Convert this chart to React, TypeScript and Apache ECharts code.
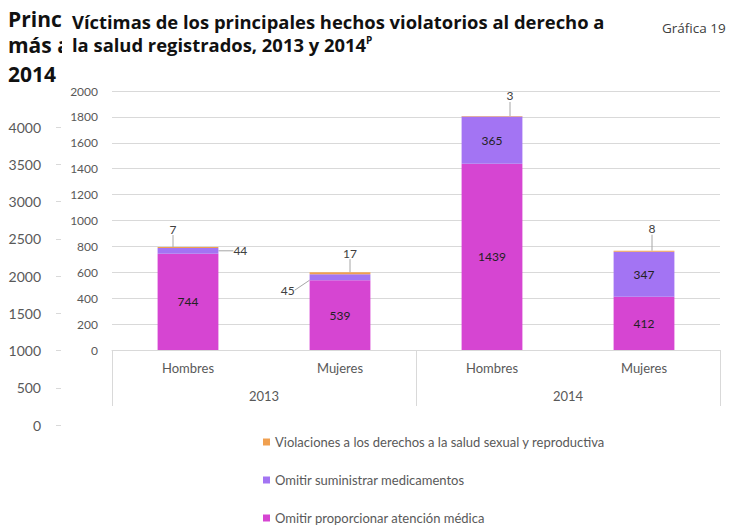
import React, { useEffect, useRef } from 'react';
import * as echarts from 'echarts';

const categories = ['Hombres', 'Mujeres', 'Hombres', 'Mujeres'];
const years = ['2013', '2014'];
const seriesNames = [
  'Omitir proporcionar atención médica',
  'Omitir suministrar medicamentos',
  'Violaciones a los derechos a la salud sexual y reproductiva',
];
const atencionMedica = [744, 539, 1439, 412];
const medicamentos = [44, 45, 365, 347];
const saludSexual = [7, 17, 3, 8];
const mainAxis = { min: 0, max: 2000, interval: 200 };
const backAxis = { min: 0, max: 4000, interval: 500 };
const backTitleLines = ['Princ', 'más a', '2014'];
const titleLine1 = 'Víctimas de los principales hechos violatorios al derecho a';
const titleLine2 = 'la salud registrados, 2013 y 2014';
const titleSup = 'P';
const chartNumber = 'Gráfica 19';

const FONT = 'Lato';
const TITLE_FONT = 'Open Sans';
const COLORS = ['#D645D2', '#A374F3', '#F0A050'];
const GRID_COLOR = '#d9d9d9';
const LABEL_COLOR = '#595959';

// label offsets (presentation only)
const medOffsets: Record<number, { dx: number; dy: number }> = {
  0: { dx: 10, dy: 0 },
  1: { dx: -10, dy: 13 },
};
const topOffsets: Record<number, { dx: number; dy: number }> = {
  0: { dx: -15, dy: -7 },
  1: { dx: 10, dy: -8 },
  2: { dx: 18, dy: -9 },
  3: { dx: 8, dy: -11 },
};

const lineStyle = { color: '#a6a6a6', width: 1 };
const plain = (v: number) => String(v);

function buildOption(): any {
  return {
    animation: false,
    textStyle: { fontFamily: FONT },
    grid: [
      { left: 112, right: 20, top: 91, bottom: 175 },
      { left: 61, width: 1, top: 127, bottom: 100 },
    ],
    legend: {
      orient: 'vertical',
      left: 263,
      top: 435,
      padding: 0,
      itemWidth: 7,
      itemHeight: 7,
      itemGap: 24,
      icon: 'rect',
      data: [seriesNames[2], seriesNames[1], seriesNames[0]],
      textStyle: { fontFamily: FONT, fontSize: 13, color: LABEL_COLOR, lineHeight: 14 },
    },
    xAxis: [
      {
        type: 'category',
        gridIndex: 0,
        data: categories,
        axisLine: { lineStyle: { color: GRID_COLOR } },
        axisTick: { show: false },
        axisLabel: { color: LABEL_COLOR, fontSize: 13, margin: 11 },
      },
      {
        type: 'category',
        gridIndex: 0,
        position: 'bottom',
        data: years,
        axisLine: { show: false },
        axisTick: { show: true, length: 56, lineStyle: { color: GRID_COLOR } },
        axisLabel: { color: LABEL_COLOR, fontSize: 13, margin: 39 },
      },
      {
        type: 'value',
        gridIndex: 1,
        show: false,
      },
    ],
    yAxis: [
      {
        type: 'value',
        gridIndex: 0,
        min: mainAxis.min,
        max: mainAxis.max,
        interval: mainAxis.interval,
        axisLine: { show: false },
        axisTick: { show: false },
        axisLabel: { color: LABEL_COLOR, fontSize: 12, margin: 14, formatter: plain },
        splitLine: { lineStyle: { color: GRID_COLOR } },
      },
      {
        type: 'value',
        gridIndex: 1,
        min: backAxis.min,
        max: backAxis.max,
        interval: backAxis.interval,
        axisLine: { show: false },
        axisTick: { show: true, length: 5, lineStyle: { color: GRID_COLOR } },
        axisLabel: { color: LABEL_COLOR, fontSize: 14, margin: 20, formatter: plain },
        splitLine: { show: false },
      },
    ],
    series: [
      {
        name: seriesNames[0],
        type: 'bar',
        stack: 'total',
        xAxisIndex: 0,
        yAxisIndex: 0,
        barWidth: '40%',
        data: atencionMedica,
        itemStyle: { color: COLORS[0] },
        label: { show: true, position: 'inside', color: '#222', fontSize: 12, fontFamily: FONT },
      },
      {
        name: seriesNames[1],
        type: 'bar',
        stack: 'total',
        xAxisIndex: 0,
        yAxisIndex: 0,
        barWidth: '40%',
        data: medicamentos.map((v, i) =>
          medOffsets[i]
            ? { value: v, label: { position: i === 0 ? 'right' : 'left', color: '#404040' }, labelLine: { show: true } }
            : { value: v, labelLine: { show: false } }
        ),
        itemStyle: { color: COLORS[1] },
        label: { show: true, position: 'inside', color: '#222', fontSize: 12, fontFamily: FONT },
        labelLine: { show: false, lineStyle },
        labelLayout: (p: any) => {
          const o = medOffsets[p.dataIndex];
          return o ? { dx: o.dx, dy: o.dy } : {};
        },
      },
      {
        name: seriesNames[2],
        type: 'bar',
        stack: 'total',
        xAxisIndex: 0,
        yAxisIndex: 0,
        barWidth: '40%',
        data: saludSexual,
        itemStyle: { color: COLORS[2] },
        label: { show: true, position: 'top', color: '#404040', fontSize: 12, fontFamily: FONT },
        labelLine: { show: true, lineStyle },
        labelLayout: (p: any) => {
          const o = topOffsets[p.dataIndex];
          return o ? { dx: o.dx, dy: o.dy } : {};
        },
      },
    ],
    graphic: [
      ...backTitleLines.map((t, i) => ({
        type: 'text',
        left: 8,
        top: [8, 34, 63][i],
        style: { text: t, fontSize: 21, fontWeight: 'bold', fontFamily: TITLE_FONT, fill: '#111' },
      })),
      {
        type: 'rect',
        shape: { x: 62, y: 4, width: 9, height: 90 },
        style: { fill: '#fff' },
      },
      {
        type: 'text',
        left: 72,
        top: 12,
        style: { text: titleLine1, fontSize: 18.4, fontWeight: 'bold', fontFamily: TITLE_FONT, fill: '#111' },
      },
      {
        type: 'text',
        left: 72,
        top: 35,
        style: {
          text: titleLine2 + '{sup|' + titleSup + '}',
          fontSize: 18.4,
          fontWeight: 'bold',
          fontFamily: TITLE_FONT,
          fill: '#111',
          rich: {
            sup: { fontSize: 10, fontWeight: 'bold', fontFamily: TITLE_FONT, fill: '#111', verticalAlign: 'top' },
          },
        },
      },
      {
        type: 'text',
        left: 662,
        top: 21,
        style: { text: chartNumber, fontSize: 13.5, fontFamily: TITLE_FONT, fill: '#404040' },
      },
    ],
  };
}

export default function App() {
  const ref = useRef<HTMLDivElement>(null);
  useEffect(() => {
    document.body.style.margin = '0';
    const chart = echarts.init(ref.current!, null, { renderer: 'svg' });
    chart.setOption(buildOption());
    return () => chart.dispose();
  }, []);
  return <div ref={ref} style={{ width: 740, height: 525 }} />;
}
